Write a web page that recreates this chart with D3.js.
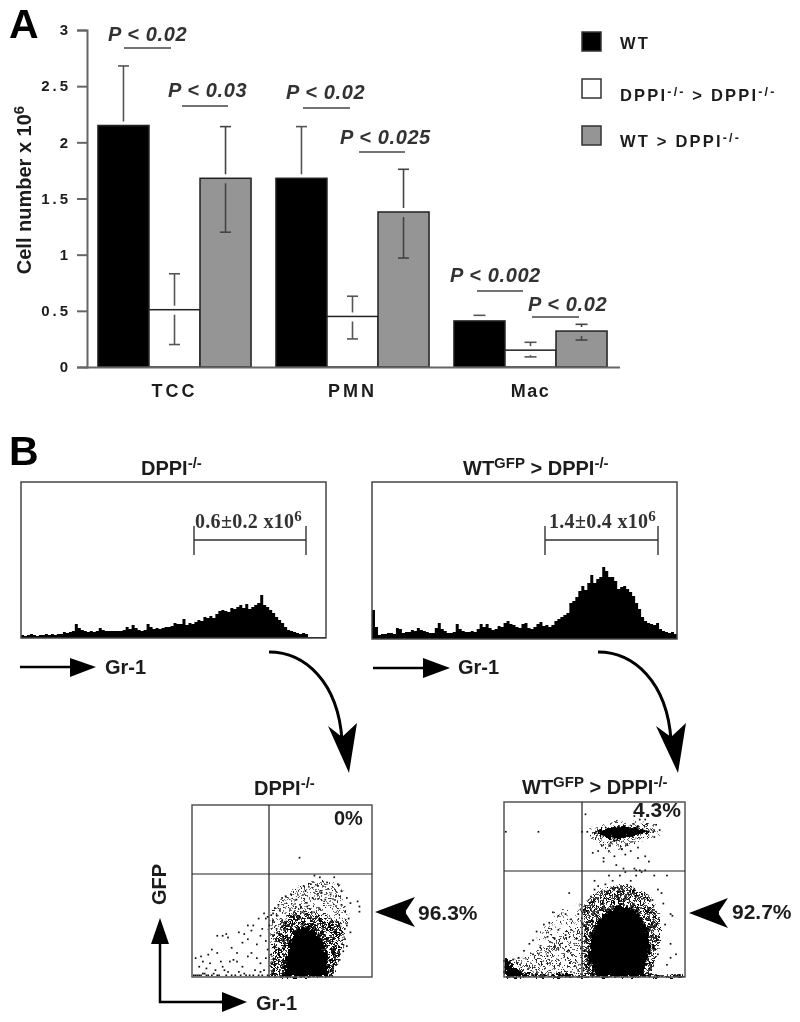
<html>
  <head>
    <script src="https://d3js.org/d3.v7.min.js"></script>
    <style>
      body { margin: 0; background: white; }
      svg text { font-family: "Liberation Sans", sans-serif; fill: #1c1c1c; }
      .bold { font-weight: bold; }
      .pval { font-style: italic; font-weight: bold; font-size: 20px; letter-spacing: 0.6px; fill: #333; }
      .range { font-family: "Liberation Serif", serif; font-weight: bold; letter-spacing: 0.3px; fill: #333; }
    </style>
  </head>
  <body>
    <svg width="800" height="1022"></svg>
    <script>
      // panel A
      const categories = ["TCC", "PMN", "Mac"];
      const groups = ["WT", "DPPI > DPPI", "WT > DPPI"];
      const wtValues = [2.15, 1.68, 0.41];
      const koValues = [0.51, 0.45, 0.15];
      const rescueValues = [1.68, 1.38, 0.32];
      const wtUpper = [2.68, 2.14, 0.46];
      const koUpper = [0.83, 0.63, 0.22];
      const koLower = [0.2, 0.25, 0.09];
      const rescueUpper = [2.14, 1.76, 0.38];
      const rescueLower = [1.2, 0.97, 0.24];
      const yTicks = [0, 0.5, 1, 1.5, 2, 2.5, 3];
      const yTickLabels = ["0", "0.5", "1", "1.5", "2", "2.5", "3"];
      const pLabels = ["P < 0.02", "P < 0.03", "P < 0.02", "P < 0.025", "P < 0.002", "P < 0.02"];

      // panel B histograms, height of each channel
      const histKo = [3,2,3,4,3,2,3,3,4,3,4,3,4,4,6,5,6,7,14,10,8,7,6,7,6,7,10,8,7,7,7,7,7,7,8,11,9,13,10,8,7,8,14,11,9,10,9,10,11,11,12,15,14,14,19,13,15,14,16,18,17,21,20,22,20,24,27,28,27,26,30,29,31,33,30,34,29,31,33,35,43,33,31,28,25,21,18,15,11,8,7,6,5,4,5,4,1,1,1,1,1,1];
      const histRescue = [29,12,4,5,5,6,6,5,11,10,6,7,7,9,8,11,9,8,7,6,6,11,16,10,8,6,6,7,15,10,8,7,7,8,7,10,15,12,15,11,9,10,13,12,16,18,15,14,12,11,15,16,11,10,12,15,17,13,14,12,14,18,20,22,24,26,36,38,42,48,53,49,56,64,56,60,62,72,68,62,62,58,50,52,53,50,47,43,36,30,22,18,16,15,14,16,10,8,7,6,7,5];

      // panel B dot plots, x and y as percent of the plot
      const coreKo = [[51,0],[52,10],[54.5,20],[58,27.5],[63,30],[68,27.5],[72,22],[75,12],[76,0]];
      const denseKo = [[44,0],[46,23],[54,37],[68,37],[83,31],[84,18],[78,0]];
      const sparseKo = [[43,0],[43.7,37],[49,45],[58,52],[69,56],[82,54],[87,35],[84,18],[78,0]];
      const dotsKo = [[59.7,69.4],[2,11],[6,9],[9,13],[4,6],[8,5],[10,8],[13,4],[16,9],[17,6],[20,3],[21,9],[23,10],[25,9],[28,6],[29,2],[31,12],[33,14],[36,11],[38,8],[40,4],[41,11],[42,16],[14,14],[17,24],[19,25],[20,23],[14,24],[26,26],[29,25],[31,22],[33,27],[36,19],[38,24],[39,28],[41,21],[41,34],[42,35],[43,30],[40,37],[37,34],[34,30],[31,30],[28,20],[25,14],[22,17],[11,16],[5,12],[7,2],[12,2],[18,4],[26,3],[35,4],[38,3],[68,59],[71,58],[79,58],[62,53],[63,50],[66,54],[70,53],[75,55],[81,54],[83,50],[86,46],[88,43],[92,44],[93,41],[93,38],[55,48],[52,47],[50,46],[48,42],[46,40],[45,37],[44,36],[47,36],[50,33],[52,30],[47,28],[45,24],[46,18],[44,13],[44,8],[45,4],[58,45],[60,42],[64,41],[67,46],[72,49],[74,45],[77,48],[80,47],[83,42],[85,38],[87,34],[86,30],[88,26],[85,22],[86,18],[84,15],[82,10],[80,7],[1,1],[2,1],[3,1],[4,1],[5,1],[6,2],[8,1],[9,1],[11,1],[14,1],[15,1],[19,1],[22,1],[24,1],[27,1],[30,1],[32,1],[34,1],[37,1],[39,1],[42,1]];

      const coreRescue = [[51,0],[46.5,11.4],[48,22.9],[53,34.3],[63.1,41],[72,39],[79,28.6],[81,17],[78,5.7],[77,0]];
      const topRescue = [[49,82.9],[55.7,85.3],[65.9,86.3],[76.9,85],[81,83.2],[73.2,80.6],[62.2,78.6],[54.8,80.3]];
      const topHaloRescue = [[45,83],[55,88],[70,89],[85,87],[87,83],[72,76],[60,71],[50,77]];
      const denseRescue = [[43.7,0],[43.7,41.9],[53,49.5],[65.9,53.3],[78.8,47.6],[86.2,36.2],[86.2,19],[80.6,0]];
      const sparseRescue = [[0,0],[0,11],[10.5,11],[27,36],[43.2,42],[43.7,0]];
      const lowerRescue = [[0,0],[0,10],[12,10],[26,22],[43.5,30],[43.7,0]];
      const cornerRescue = [[0,0],[0,11],[3,9],[6,5],[12,2],[20,1],[30,2],[45,1],[100,1],[100,0]];
      const dotsRescue = [[45,93],[46,83],[19,83],[1,83],[43,83],[75,90],[78,90],[72,92],[84,87],[86,84],[83,80],[49,71],[52,72],[55,68],[58,72],[61,69],[65,73],[67,70],[70,72],[78,69],[80,66],[55,66],[62,64],[66,62],[74,68],[72,62],[78,61],[73,61],[75,61],[76,60],[70,55],[73,58],[64,58],[60,55],[58,58],[56,53],[67,60],[83,58],[90,58],[52,52],[50,50],[48,46],[85,50],[87,48],[88,42],[92,36],[93,35],[89,30],[92,19],[95,13],[92,11],[85,13],[90,7],[36,48],[34,36],[30,35],[37,33],[41,36],[27,37],[25,31],[22,30],[18,26],[16,21],[14,19],[30,27],[34,24],[37,27],[24,23],[28,22],[11,15],[8,11],[5,10],[20,17],[16,13],[24,12],[30,16],[36,15],[40,22],[50,55],[82,44],[54,75],[59,77],[62,78],[68,76],[74,74]];

      const stippleDots = [[1,2],[5,1],[9,4],[14,1],[19,3],[26,2],[31,5],[36,1],[3,7],[7,9],[12,6],[17,8],[22,6],[28,9],[34,7],[38,10],[1,13],[6,14],[10,12],[15,15],[20,12],[25,14],[30,13],[35,16],[3,18],[8,20],[13,18],[18,21],[23,18],[27,20],[33,21],[39,19],[1,24],[5,26],[11,24],[16,26],[21,23],[26,25],[31,27],[37,24],[3,30],[8,31],[13,29],[18,32],[24,30],[29,32],[34,30],[39,33],[1,36],[6,37],[11,35],[16,38],[21,36],[26,37],[32,36],[37,38]];
      const tile = 41;

      const svg = d3.select("svg");
      const defs = svg.append("defs");

      // soft edge, the reference is a scanned print
      defs.append("filter").attr("id", "soft")
        .attr("filterUnits", "userSpaceOnUse")
        .attr("x", 0).attr("y", 0).attr("width", 800).attr("height", 1022)
        .append("feGaussianBlur").attr("stdDeviation", 0.45);

      // breaks up the stipple and the edge of the dense clouds
      const rough = defs.append("filter").attr("id", "rough")
        .attr("filterUnits", "userSpaceOnUse")
        .attr("x", 0).attr("y", 0).attr("width", 800).attr("height", 1022);
      rough.append("feTurbulence").attr("type", "fractalNoise").attr("baseFrequency", 0.35)
        .attr("numOctaves", 2).attr("seed", 4).attr("result", "n");
      rough.append("feDisplacementMap").attr("in", "SourceGraphic").attr("in2", "n")
        .attr("scale", 9).attr("xChannelSelector", "R").attr("yChannelSelector", "G");

      function makeStipple(id, shifts, color, size) {
        const p = defs.append("pattern").attr("id", id)
          .attr("patternUnits", "userSpaceOnUse")
          .attr("width", tile).attr("height", tile);
        shifts.forEach(function (s) {
          p.selectAll(null).data(stippleDots).enter().append("rect")
            .attr("x", function (d) { return (d[0] + s[0]) % tile; })
            .attr("y", function (d) { return (d[1] + s[1]) % tile; })
            .attr("width", size).attr("height", size)
            .attr("fill", color);
        });
      }
      makeStipple("sparse", [[0, 0]], "#333", 1.6);
      makeStipple("medium", [[0, 0], [2, 3]], "#222", 1.7);
      makeStipple("dense", [[0, 0], [2, 2], [3, 0], [0, 3], [2, 4]], "#000", 1.8);

      const g = svg.append("g").attr("filter", "url(#soft)");

      // rich text with superscripts, parts are [string, isSuper]
      function richText(x, y, parts, size, cls, anchor) {
        const t = g.append("text").attr("x", x).attr("y", y)
          .attr("font-size", size).attr("class", cls || "bold")
          .attr("text-anchor", anchor || "start");
        let up = false;
        parts.forEach(function (p) {
          const s = t.append("tspan").text(p[0]);
          if (p[1] && !up) { s.attr("dy", -size * 0.33); up = true; }
          else if (!p[1] && up) { s.attr("dy", size * 0.33); up = false; }
          if (p[1]) s.attr("font-size", size * 0.75);
        });
        return t;
      }

      g.append("text").attr("x", 9).attr("y", 38).attr("class", "bold").attr("font-size", 41).style("fill", "#000").text("A");
      g.append("text").attr("x", 9).attr("y", 465).attr("class", "bold").attr("font-size", 41).style("fill", "#000").text("B");

      // ---- bar chart
      const y = d3.scaleLinear().domain([0, 3]).range([367, 30]);
      const x0 = d3.scaleBand().domain(categories).range([85.5, 619.5]).paddingInner(0.14).paddingOuter(0.07);
      const x1 = d3.scaleBand().domain(groups).range([0, x0.bandwidth()]);
      const color = d3.scaleOrdinal().domain(groups).range(["#000", "#fff", "#959595"]);

      const seriesValues = [wtValues, koValues, rescueValues];
      const seriesUpper = [wtUpper, koUpper, rescueUpper];
      const seriesLower = [null, koLower, rescueLower];

      groups.forEach(function (name, s) {
        const layer = g.append("g").attr("class", "series");
        categories.forEach(function (cat, i) {
          const bx = x0(cat) + x1(name);
          const mid = bx + x1.bandwidth() / 2;
          const val = y(seriesValues[s][i]);
          layer.append("rect")
            .attr("x", bx).attr("y", val)
            .attr("width", x1.bandwidth()).attr("height", y(0) - val)
            .attr("fill", color(name))
            .attr("stroke", "#222").attr("stroke-width", 1.5);

          // error bars leave a small gap at the bar top
          const top = y(seriesUpper[s][i]);
          const barColor = s == 2 ? "#444" : "#555";
          const capHalf = i == 2 ? 6 : 5.5;
          if (val - top > 6) {
            layer.append("line").attr("x1", mid).attr("x2", mid).attr("y1", top).attr("y2", val - 4)
              .attr("stroke", barColor).attr("stroke-width", 1.6);
          }
          layer.append("line").attr("x1", mid - capHalf).attr("x2", mid + capHalf).attr("y1", top).attr("y2", top)
            .attr("stroke", barColor).attr("stroke-width", 1.6);
          if (seriesLower[s]) {
            const low = y(seriesLower[s][i]);
            if (low - val > 6) {
              layer.append("line").attr("x1", mid).attr("x2", mid).attr("y1", val + 5).attr("y2", low)
                .attr("stroke", barColor).attr("stroke-width", 1.6);
            }
            layer.append("line").attr("x1", mid - capHalf).attr("x2", mid + capHalf).attr("y1", low).attr("y2", low)
              .attr("stroke", barColor).attr("stroke-width", 1.6);
          }
        });
      });

      const yAxis = g.append("g").attr("transform", "translate(87,0)")
        .call(d3.axisLeft(y).tickValues(yTicks).tickSize(10).tickPadding(6)
          .tickFormat(function (d, i) { return yTickLabels[i]; }));
      yAxis.selectAll("line,path").attr("stroke", "#666").attr("stroke-width", 2);
      yAxis.selectAll("text").attr("class", "bold").attr("font-size", 15)
        .style("letter-spacing", "3px");

      const xAxis = g.append("g").attr("transform", "translate(0,367)")
        .call(d3.axisBottom(x0).tickSize(0).tickPadding(17));
      xAxis.select("path").attr("stroke", "#666").attr("stroke-width", 2);
      xAxis.selectAll("text").attr("class", "bold").attr("font-size", 18)
        .style("letter-spacing", function (d) { return d == "Mac" ? "1.5px" : "3px"; });

      const yTitle = richText(0, 0, [["Cell number x 10"], ["6", true]], 20, "bold", "middle");
      yTitle.attr("x", null).attr("y", null).attr("transform", "translate(31,190) rotate(-90)");

      // significance labels with their rules
      const pX = [108, 168, 286, 340, 450, 528];
      const pY = [41, 97, 99, 144, 282, 311];
      const ruleX = [[124, 171], [182, 228], [303, 350], [359, 405], [477, 523], [532, 579]];
      const ruleY = [48, 106, 108, 152, 291, 317];
      pLabels.forEach(function (label, i) {
        g.append("text").attr("class", "pval").attr("x", pX[i]).attr("y", pY[i]).text(label);
        g.append("line").attr("x1", ruleX[i][0]).attr("x2", ruleX[i][1]).attr("y1", ruleY[i]).attr("y2", ruleY[i])
          .attr("stroke", "#444").attr("stroke-width", 1.6);
      });

      // legend
      const legendY = [32, 79, 126];
      const legendParts = [
        [["WT"]],
        [["DPPI"], ["-/-", true], [" > DPPI"], ["-/-", true]],
        [["WT > DPPI"], ["-/-", true]]
      ];
      const legendBase = [49, 101, 147];
      groups.forEach(function (name, i) {
        g.append("rect").attr("x", 582).attr("y", legendY[i]).attr("width", 19).attr("height", 19)
          .attr("fill", color(name)).attr("stroke", "#333").attr("stroke-width", 1.5);
        richText(620, legendBase[i], legendParts[i], 16.5, "bold").style("letter-spacing", "2.2px");
      });

      // ---- histograms
      function histogram(values, left, top, w, h) {
        const hx = d3.scaleLinear().domain([0, values.length]).range([left, left + w]);
        const hy = d3.scaleLinear().domain([0, h]).range([top + h, top]);
        const area = d3.area().curve(d3.curveStepAfter)
          .x(function (d, i) { return hx(i); })
          .y0(hy(0))
          .y1(function (d) { return hy(d); });
        g.append("path").datum(values.concat([values[values.length - 1]]))
          .attr("d", area).attr("fill", "#000");
        g.append("rect").attr("x", left).attr("y", top).attr("width", w).attr("height", h)
          .attr("fill", "none").attr("stroke", "#444").attr("stroke-width", 1.5);
      }
      histogram(histKo, 21, 482, 305, 156);
      histogram(histRescue, 372, 482, 305, 157);

      function rangeMark(a, b, yy) {
        g.append("path").attr("d", "M" + a + "," + (yy - 14) + "V" + (yy + 15) + "M" + a + "," + yy + "H" + b + "M" + b + "," + (yy - 14) + "V" + (yy + 15))
          .attr("fill", "none").attr("stroke", "#333").attr("stroke-width", 1.4);
      }
      rangeMark(194, 306, 540);
      rangeMark(545, 658, 540);
      richText(195, 528, [["0.6±0.2 x10"], ["6", true]], 20, "range");
      richText(549, 528, [["1.4±0.4 x10"], ["6", true]], 20, "range");

      richText(141, 475, [["DPPI"], ["-/-", true]], 20);
      richText(463, 475, [["WT"], ["GFP", true], [" > DPPI"], ["-/-", true]], 20);

      function arrow(points, stem, width) {
        g.append("path").attr("d", stem).attr("fill", "none").attr("stroke", "#000").attr("stroke-width", width || 2.5);
        g.append("polygon").attr("points", points).attr("fill", "#000");
      }
      arrow("70,658 96,667 70,677", "M20,667H72");
      arrow("423,658 450,668 423,678", "M373,668H425");
      richText(105, 674, [["Gr-1"]], 20);
      richText(458, 674, [["Gr-1"]], 20);

      arrow("328,726 342,737 357,723 349,773", "M269,652C305,652 338,682 342,740", 3);
      arrow("656,726 671,737 686,723 678,773", "M598,652C634,652 667,682 671,740", 3);

      // ---- dot plots
      function dotPlot(o) {
        const px = d3.scaleLinear().domain([0, 100]).range([o.left, o.right]);
        const py = d3.scaleLinear().domain([0, 100]).range([o.bottom, o.top]);
        const line = d3.line().x(function (d) { return px(d[0]); }).y(function (d) { return py(d[1]); });
        const clouds = g.append("g").attr("filter", "url(#rough)");
        const shape = function (pts, fill) {
          clouds.append("path").attr("d", line(pts) + "Z").attr("fill", fill);
        };
        o.sparse.forEach(function (pts) { shape(pts, "url(#sparse)"); });
        o.medium.forEach(function (pts) { shape(pts, "url(#medium)"); });
        shape(o.dense, "url(#dense)");
        o.solid.forEach(function (pts) { shape(pts, "#000"); });
        g.selectAll(null).data(o.dots).enter().append("rect")
          .attr("class", "dot")
          .attr("x", function (d) { return px(d[0]) - 0.8; })
          .attr("y", function (d) { return py(d[1]) - 0.8; })
          .attr("width", 1.7).attr("height", 1.7)
          .attr("fill", "#111");
        g.append("rect").attr("x", o.left).attr("y", o.top)
          .attr("width", o.right - o.left).attr("height", o.bottom - o.top)
          .attr("fill", "none").attr("stroke", "#555").attr("stroke-width", 1.5);
        g.append("path").attr("d", "M" + o.crossX + "," + o.top + "V" + o.bottom + "M" + o.left + "," + o.crossY + "H" + o.right)
          .attr("fill", "none").attr("stroke", "#222").attr("stroke-width", 1.2);
      }
      dotPlot({ left: 192, right: 372, top: 805, bottom: 977, crossX: 269, crossY: 874,
        sparse: [], medium: [sparseKo], dense: denseKo, solid: [coreKo], dots: dotsKo });
      dotPlot({ left: 504, right: 685, top: 802, bottom: 977, crossX: 582, crossY: 871,
        sparse: [sparseRescue], medium: [lowerRescue, topHaloRescue], dense: denseRescue, solid: [coreRescue, topRescue, cornerRescue], dots: dotsRescue });

      richText(254, 795, [["DPPI"], ["-/-", true]], 20);
      richText(522, 794, [["WT"], ["GFP", true], [" > DPPI"], ["-/-", true]], 20);
      richText(334, 825, [["0%"]], 20);
      richText(633, 817, [["4.3%"]], 21);
      richText(418, 920, [["96.3%"]], 21);
      richText(732, 919, [["92.7%"]], 21);

      arrow("375,912 415,897 405,912 415,927", "M405,912H406");
      arrow("689,913 728,898 718,913 728,928", "M718,913H719");

      // axis arrows under the first dot plot
      arrow("160,918 169,944 151,944", "M160,940V1002H225");
      arrow("222,992 247,1002 222,1012", "M220,1002H224");
      richText(256, 1010, [["Gr-1"]], 20);
      richText(0, 0, [["GFP"]], 20).attr("x", null).attr("y", null)
        .attr("transform", "translate(166,905) rotate(-90)");
    </script>
  </body>
</html>
